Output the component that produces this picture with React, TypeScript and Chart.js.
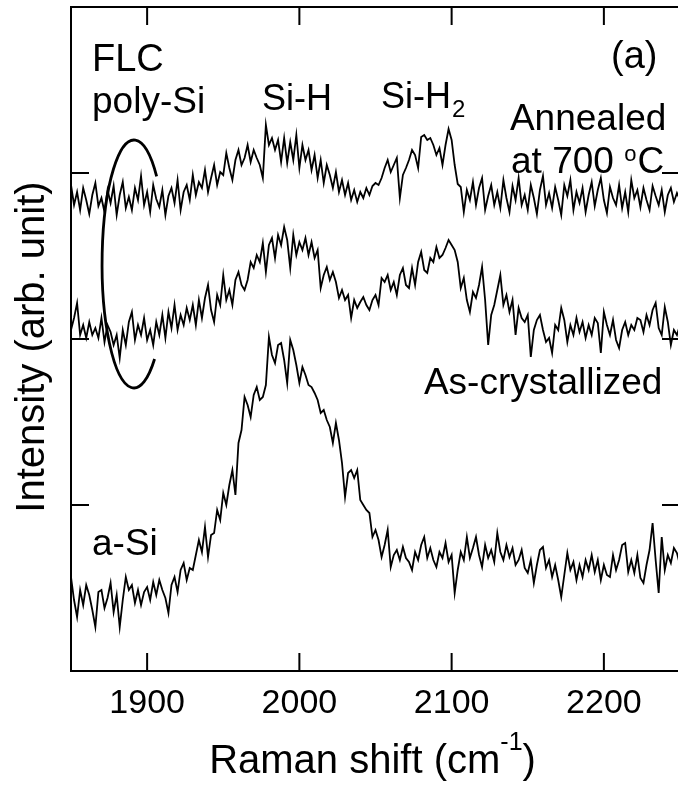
import React, { useEffect, useRef } from "react";
import { Chart, registerables } from "chart.js";

Chart.register(...registerables);

// Raman shift sampling grid (cm^-1)
const shiftStart = 1850;
const shiftStep = 2;

// Intensities (arb. unit), one value every 2 cm^-1 from 1850 to 2250
const annealed = [
  486, 466, 479, 461, 483, 471, 457, 476, 488, 465,
  473, 459, 481, 468, 485, 456, 476, 489, 463, 474,
  461, 483, 471, 495, 466, 479, 459, 486, 472, 464,
  481, 456, 475, 483, 468, 491, 461, 479, 486, 471,
  496, 476, 489, 483, 501, 479, 493, 506, 486, 499,
  496, 518, 503, 491, 511, 521, 506, 513, 526, 509,
  521, 513, 506, 493, 546, 526, 533, 521, 531, 509,
  533, 508, 529, 511, 536, 503, 526, 511, 521, 501,
  516, 493, 511, 488, 506, 496, 483, 499, 479, 491,
  476, 488, 471, 481, 469, 479, 473, 483, 476, 485,
  488, 486, 493, 503, 511, 499, 506, 513, 473, 496,
  503, 511, 521, 516, 503, 534, 536, 531, 533, 526,
  516, 523, 506, 526, 542, 531, 506, 487, 484, 459,
  481, 471, 489, 466, 483, 493, 461, 475, 486, 466,
  479, 463, 491, 473, 459, 485, 471, 493, 466, 476,
  461, 486, 473, 457, 481, 495, 466, 478, 463, 484,
  471, 456, 486, 475, 491, 461, 479, 468, 483, 459,
  476, 489, 465, 481, 493, 471, 458, 484, 473, 466,
  486, 463, 479, 459, 491, 473, 481, 464, 483, 471,
  461, 485, 475, 466, 481, 459, 476, 483, 469, 478, 471,
];

const asCrystallized = [
  341, 353, 368, 336, 346, 333, 349, 336, 343, 333,
  353, 329, 346, 339, 326, 336, 313, 341, 326, 349,
  359, 331, 346, 336, 353, 331, 341, 326, 349, 336,
  356, 333, 359, 343, 366, 341, 356, 346, 363, 351,
  366, 346, 371, 353, 373, 386, 361, 349, 376, 366,
  396, 371, 381, 366, 391, 399, 386, 381, 391, 409,
  403, 416, 409, 428, 399, 426, 433, 413, 436, 426,
  444, 431, 403, 436, 416, 429, 421, 433, 416, 429,
  413, 421, 383, 396, 404, 391, 399, 389, 373, 381,
  371, 376, 353, 371, 363, 369, 374, 366, 361, 371,
  376, 366, 393, 389, 396, 381, 389, 376, 396, 403,
  386, 383, 403, 386, 409, 419, 401, 398, 413, 409,
  424, 413, 416, 423, 431, 426, 421, 409, 383, 393,
  371, 359, 379, 373, 386, 404, 371, 326, 356, 366,
  381, 396, 366, 376, 359, 371, 336, 363, 353, 349,
  356, 314, 341, 351, 356, 341, 329, 333, 318, 346,
  341, 363, 351, 329, 346, 336, 353, 339, 349, 333,
  346, 336, 353, 348, 318, 359, 346, 336, 351, 331,
  323, 341, 349, 336, 346, 341, 353, 351, 339, 356,
  346, 361, 368, 343, 336, 364, 349, 326, 341, 336, 346,
];

const aSi = [
  94, 71, 54, 81, 66, 86, 76, 61, 44, 79,
  81, 63, 73, 88, 59, 76, 44, 71, 94, 81,
  86, 68, 81, 66, 79, 84, 71, 89, 76, 91,
  81, 73, 58, 86, 94, 79, 101, 108, 91, 103,
  101, 116, 131, 119, 144, 114, 136, 138, 161, 151,
  178, 166, 186, 201, 176, 228, 241, 274, 266, 254,
  276, 284, 271, 274, 286, 334, 316, 308, 326, 328,
  311, 288, 331, 321, 306, 288, 304, 296, 286, 284,
  278, 271, 258, 261, 251, 244, 228, 248, 231, 208,
  174, 198, 201, 193, 201, 171, 166, 161, 158, 134,
  141, 131, 114, 126, 141, 104, 116, 121, 111, 124,
  113, 109, 101, 119, 111, 126, 134, 113, 123, 111,
  104, 119, 113, 128, 109, 116, 78, 101, 119, 111,
  134, 113, 123, 134, 116, 104, 126, 113, 121, 109,
  138, 119, 111, 126, 114, 123, 106, 111, 121, 103,
  98, 111, 88, 106, 121, 124, 103, 111, 94, 106,
  91, 74, 96, 118, 101, 109, 91, 106, 94, 111,
  101, 116, 99, 111, 91, 106, 96, 94, 116, 101,
  111, 126, 128, 99, 111, 98, 116, 93, 88, 106,
  121, 148, 111, 78, 134, 101, 116, 108, 123, 118, 106,
];

// Axes
const xMin = 1850;
const xMax = 2250;
const yMin = 0;
const yMax = 664;
const xTicks = [1900, 2000, 2100, 2200];
const yTicks = [0, 166, 332, 498, 664];

// Annotation texts (data coordinates)
const FONT = '"Liberation Sans", Arial, Helvetica, sans-serif';
const notes = [
  { text: "FLC", x: 1863.8, y: 600, size: 38 },
  { text: "poly-Si", x: 1863.8, y: 558, size: 37 },
  { text: "Si-H", x: 1975.5, y: 561, size: 36 },
  { text: "Annealed", x: 2138.3, y: 541, size: 37 },
  { text: "As-crystallized", x: 2081.8, y: 277, size: 37 },
  { text: "a-Si", x: 1863.8, y: 116, size: 37 },
  { text: "(a)", x: 2204.7, y: 603, size: 38 },
];
const siH2 = { main: "Si-H", sub: "2", x: 2053.6, y: 563 };
const temp = { pre: "at 700 ", sup: "o", post: "C", x: 2139, y: 498 };
const ellipse = { cx: 1891.4, cy: 407, rx: 21, ry: 124, start: 50, end: 315 };

const decorPlugin = {
  id: "decor",
  afterDraw(chart: any) {
    const { ctx, chartArea: a } = chart;
    const xs = chart.scales.x;
    const ys = chart.scales.y;
    const X = (v: number) => xs.getPixelForValue(v);
    const Y = (v: number) => ys.getPixelForValue(v);
    ctx.save();
    ctx.strokeStyle = "#000";
    ctx.fillStyle = "#000";
    ctx.lineWidth = 2;
    ctx.strokeRect(a.left, a.top, a.right - a.left, a.bottom - a.top);
    const L = 18;
    ctx.beginPath();
    for (const v of xTicks) {
      const p = X(v);
      ctx.moveTo(p, a.bottom);
      ctx.lineTo(p, a.bottom - L);
      ctx.moveTo(p, a.top);
      ctx.lineTo(p, a.top + L);
    }
    for (const v of yTicks) {
      const p = Y(v);
      ctx.moveTo(a.left, p);
      ctx.lineTo(a.left + L, p);
      ctx.moveTo(a.right, p);
      ctx.lineTo(a.right - L, p);
    }
    ctx.stroke();

    // ellipse around the low-wavenumber region
    ctx.lineWidth = 2.8;
    ctx.beginPath();
    const ecx = X(ellipse.cx);
    const ecy = Y(ellipse.cy);
    const erx = X(ellipse.cx + ellipse.rx) - ecx;
    const ery = ecy - Y(ellipse.cy + ellipse.ry);
    ctx.ellipse(ecx, ecy, erx, ery, 0, (ellipse.start * Math.PI) / 180, (ellipse.end * Math.PI) / 180, false);
    ctx.stroke();

    // annotation texts
    ctx.textBaseline = "alphabetic";
    ctx.textAlign = "left";
    for (const n of notes) {
      ctx.font = `${n.size}px ${FONT}`;
      ctx.fillText(n.text, X(n.x), Y(n.y));
    }
    // Si-H2
    let px = X(siH2.x);
    let py = Y(siH2.y);
    ctx.font = `36px ${FONT}`;
    ctx.fillText(siH2.main, px, py);
    px += ctx.measureText(siH2.main).width + 1;
    ctx.font = `24px ${FONT}`;
    ctx.fillText(siH2.sub, px, py + 9);
    // at 700 oC
    px = X(temp.x);
    py = Y(temp.y);
    ctx.font = `37px ${FONT}`;
    ctx.fillText(temp.pre, px, py);
    px += ctx.measureText(temp.pre).width;
    ctx.font = `22px ${FONT}`;
    ctx.fillText(temp.sup, px, py - 12);
    px += ctx.measureText(temp.sup).width + 1;
    ctx.font = `37px ${FONT}`;
    ctx.fillText(temp.post, px, py);

    // x axis title with superscript
    const main = "Raman shift (cm";
    const sup = "-1";
    const close = ")";
    ctx.font = `40px ${FONT}`;
    const wMain = ctx.measureText(main).width;
    const wClose = ctx.measureText(close).width;
    ctx.font = `25px ${FONT}`;
    const wSup = ctx.measureText(sup).width;
    const total = wMain + wSup + wClose;
    const cx = (a.left + a.right) / 2;
    let tx = cx - total / 2 - 3;
    const tb = a.bottom + 102;
    ctx.font = `40px ${FONT}`;
    ctx.fillText(main, tx, tb);
    tx += wMain;
    ctx.font = `25px ${FONT}`;
    ctx.fillText(sup, tx, tb - 23);
    tx += wSup;
    ctx.font = `40px ${FONT}`;
    ctx.fillText(close, tx, tb);

    // y axis title
    ctx.save();
    ctx.translate(a.left - 27, (a.top + a.bottom) / 2 + 8);
    ctx.rotate(-Math.PI / 2);
    ctx.textAlign = "center";
    ctx.font = `40px ${FONT}`;
    ctx.fillText("Intensity (arb. unit)", 0, 0);
    ctx.restore();

    ctx.restore();
  },
};

function series(values: number[]) {
  return values.map((v, i) => ({ x: shiftStart + i * shiftStep, y: v }));
}

export default function App() {
  const ref = useRef<HTMLCanvasElement | null>(null);
  useEffect(() => {
    if (!ref.current) return;
    const common = { borderColor: "#000", borderWidth: 1.8, pointRadius: 0, tension: 0, fill: false };
    const chart = new Chart(ref.current, {
      type: "line",
      data: {
        datasets: [
          { label: "Annealed at 700 °C", data: series(annealed), ...common },
          { label: "As-crystallized", data: series(asCrystallized), ...common },
          { label: "a-Si", data: series(aSi), ...common },
        ],
      },
      options: {
        animation: false,
        responsive: false,
        devicePixelRatio: 1,
        layout: { padding: { top: 7, right: 10, left: 0, bottom: 0 } },
        plugins: { legend: { display: false }, tooltip: { enabled: false } },
        scales: {
          x: {
            type: "linear",
            min: xMin,
            max: xMax,
            grid: { display: false, drawTicks: false },
            border: { display: false },
            afterBuildTicks: (s: any) => {
              s.ticks = xTicks.map((v) => ({ value: v }));
            },
            afterFit: (s: any) => {
              s.height = 116;
            },
            ticks: {
              color: "#000",
              padding: 12,
              maxRotation: 0,
              font: { family: FONT, size: 34 },
              callback: (v: any) => String(v),
            },
          },
          y: {
            type: "linear",
            min: yMin,
            max: yMax,
            grid: { display: false, drawTicks: false },
            border: { display: false },
            afterBuildTicks: (s: any) => {
              s.ticks = yTicks.map((v) => ({ value: v }));
            },
            afterFit: (s: any) => {
              s.width = 71;
            },
            ticks: { display: false },
          },
        },
      },
      plugins: [decorPlugin],
    } as any);
    return () => chart.destroy();
  }, []);
  return (
    <div style={{ position: "absolute", left: 0, top: 0, width: 678, height: 787, overflow: "hidden", background: "#fff" }}>
      <canvas ref={ref} width={690} height={787} style={{ display: "block", width: 690, height: 787 }} />
    </div>
  );
}
